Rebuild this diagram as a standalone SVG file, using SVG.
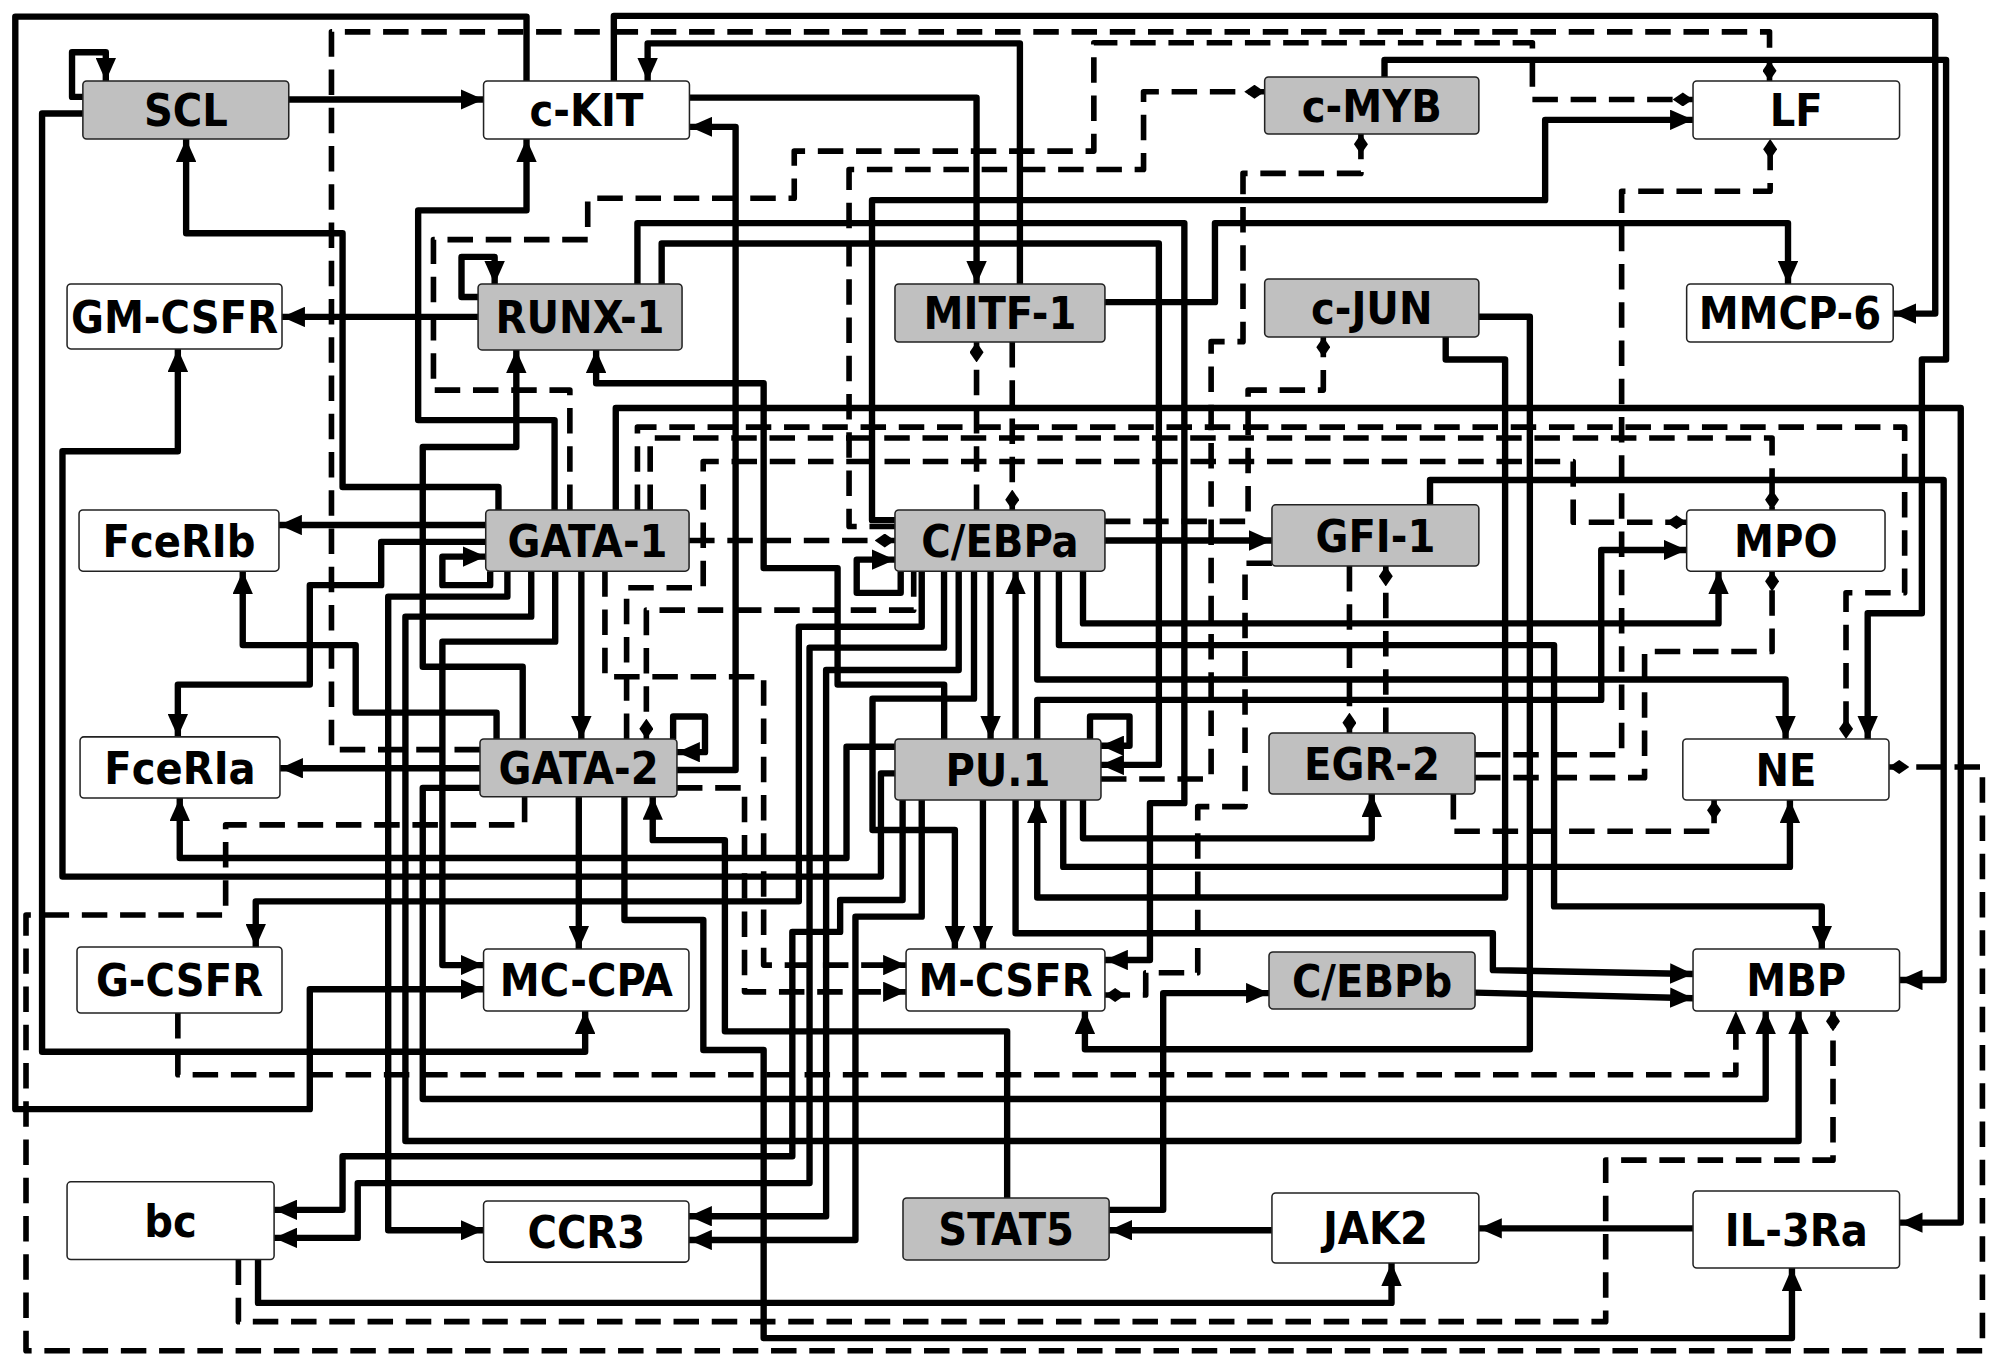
<svg xmlns="http://www.w3.org/2000/svg" width="1999" height="1366" viewBox="0 0 1999 1366">
<defs>
<style>
.n rect{stroke:#222;stroke-width:1.2}
.g rect{fill:#c0c0c0}
.w rect{fill:#fff}
text{font-family:'DejaVu Sans Condensed','DejaVu Sans',sans-serif;font-weight:bold;font-stretch:condensed;font-size:35px;text-anchor:middle;fill:#000}
#edges path{fill:none;stroke:#000;stroke-linejoin:round}
.a{stroke-width:5;marker-end:url(#ar)}
.da{stroke-width:4.4;stroke-dasharray:20 10;marker-end:url(#ar)}
.dd{stroke-width:4.4;stroke-dasharray:20 10;marker-end:url(#dm)}
</style>
<marker id="ar" markerUnits="userSpaceOnUse" viewBox="0 0 18 16" markerWidth="18" markerHeight="16" refX="18" refY="8" orient="auto"><path d="M0,0L18,8L0,16z" fill="#000"/></marker>
<marker id="dm" markerUnits="userSpaceOnUse" viewBox="0 0 16 11" markerWidth="16" markerHeight="11" refX="16" refY="5.5" orient="auto"><path d="M0,5.5L8,0L16,5.5L8,11z" fill="#000"/></marker>
</defs>
<rect width="1999" height="1366" fill="#fff"/>
<g transform="scale(1.27487)">
<g id="edges">
<path class="a" d="M413,63.5V13H12V870H243V776H379.3"/>
<path class="a" d="M65,76H56.5V41H83V63.5"/>
<path class="a" d="M226.5,78H379.3"/>
<path class="a" d="M65,89H33V825H459V793"/>
<path class="a" d="M481.5,63.5V12.5H1518V246H1485"/>
<path class="a" d="M800,222.8V34H508V63.5"/>
<path class="a" d="M540.8,76.6H766V222.8"/>
<path class="a" d="M531,604H577V99.5H540.8"/>
<path class="a" d="M528,579.7V562H553V590H531"/>
<path class="a" d="M1086,60.4V47H1526.5V282H1507.5V481H1465V579.7"/>
<path class="a" d="M1160,248.5H1200V823H851V793"/>
<path class="a" d="M1134,264.3V282H1180.6V704H813.6V627.5"/>
<path class="a" d="M866.7,237H953V175H1402.5V222.8"/>
<path class="a" d="M702,408H684V157H1212V94H1328"/>
<path class="a" d="M500,222.8V175H929V630H902V753H866.7"/>
<path class="a" d="M519,222.8V191H909V600H863.6"/>
<path class="a" d="M855,579.7V562H886V585H863.6"/>
<path class="a" d="M375,248.6H221.2"/>
<path class="a" d="M375,233H362V201.5H388V222.8"/>
<path class="a" d="M391,400V382H268.7V183H146V109"/>
<path class="a" d="M435,400V329.5H328V165H413V109"/>
<path class="a" d="M410,579.7V523H331.6V350.6H405V274.5"/>
<path class="a" d="M740.6,579.7V537H657V445.6H599V300.6H467.6V274.5"/>
<path class="a" d="M381,411.8H218.8"/>
<path class="a" d="M381,425H299V459H243V537H139.5V578"/>
<path class="a" d="M384.5,448V459H347V436.6H381"/>
<path class="a" d="M389.5,579.7V559H279V506H190.4V448"/>
<path class="a" d="M376.5,602.6H219.6"/>
<path class="a" d="M456,448V579.7"/>
<path class="a" d="M454,625V744.4"/>
<path class="a" d="M376.5,618H331.6V862H1385V793"/>
<path class="a" d="M483,400V320H1538V959H1490"/>
<path class="a" d="M1121.7,396V376.5H1524.6V768.7H1490"/>
<path class="a" d="M866.7,424H997.7"/>
<path class="a" d="M834,627.5V680H1404V627.5"/>
<path class="a" d="M849.5,627.5V657.6H1076V622.8"/>
<path class="a" d="M830.6,448V506H1219V711H1429V744.4"/>
<path class="a" d="M849.5,448V489H1348V448"/>
<path class="a" d="M813.6,448V533H1400.6V579.7"/>
<path class="a" d="M813.6,579.7V549H1256V431.4H1323"/>
<path class="a" d="M796.6,627.5V732H1171V761L1328,764"/>
<path class="a" d="M1157,778.6L1328,783"/>
<path class="a" d="M870,949H912.4V779H995.4"/>
<path class="a" d="M997.7,965H870"/>
<path class="a" d="M1328,963.5H1160"/>
<path class="a" d="M790,939.7V809H568.6V659H512V625"/>
<path class="a" d="M489.8,625V721.6H551.7V823.6H599V1049.6H1405.6V994.6"/>
<path class="a" d="M702,585.7H664V673H141V626"/>
<path class="a" d="M702,606.6H691V687.6H49V354H139.5V273.7"/>
<path class="a" d="M416.7,448V483.7H318V895H1410.8V793"/>
<path class="a" d="M398,448V468H304.5V965H379.3"/>
<path class="a" d="M435.5,448V503.3H347V757H379.3"/>
<path class="a" d="M706.5,448V465H672V439H702"/>
<path class="a" d="M764,448V548H684.4V651H749V744.4"/>
<path class="a" d="M777,448V579.7"/>
<path class="a" d="M796.6,579.7V448"/>
<path class="a" d="M723,448V491.6H626.6V707H200.6V742.8"/>
<path class="a" d="M740.5,448V508H635V928H280.6V971H215"/>
<path class="a" d="M752,448V525.5H648V954H540.4"/>
<path class="a" d="M723,627.5V719H671V972.6H540.4"/>
<path class="a" d="M708,627.5V706H659V731H621.5V907H268.7V949H215"/>
<path class="a" d="M771,627.5V744.4"/>
<path class="a" d="M202.4,988V1022H1091.5V990.7"/>
<path class="dd" d="M376.5,588H260V25H1388V63.5"/>
<path class="dd" d="M447,400V306H340V188H461V155.5H623V118.5H858V33.5H1202V78H1328"/>
<path class="dd" d="M702,413H666V133H897V72H992"/>
<path class="dd" d="M863.6,611H950V268H975V136H1067.5V105.1"/>
<path class="dd" d="M866.7,409H979V306H1038V264.3"/>
<path class="dd" d="M766,400V268.3"/>
<path class="dd" d="M794,268.3V400"/>
<path class="dd" d="M540.5,424H702"/>
<path class="dd" d="M510,400V343.6H1390V400"/>
<path class="dd" d="M500,400V335H1494V465H1448V579.7"/>
<path class="dd" d="M491.5,579.7V461H551.6V362H1234V409.6H1323"/>
<path class="dd" d="M716.7,448V478.6H507V579.7"/>
<path class="dd" d="M997.7,441.8H976.6V632.7H939.5V763H898.7V780.5H866.7"/>
<path class="dd" d="M1058.5,444V575"/>
<path class="dd" d="M1087,575V444"/>
<path class="dd" d="M1157,592H1272V150H1388.5V109"/>
<path class="dd" d="M1157,610H1290V511H1390V448"/>
<path class="dd" d="M1140,622.8V652H1344.5V627.5"/>
<path class="dd" d="M411.5,625V647H177V717.7H20.4V1059.5H1555V601.6H1481.7"/>
<path class="dd" d="M187,988V1036.7H1259.5V910H1437.8V793"/>
<path class="da" d="M474.5,448V530.8H599V757H710.7"/>
<path class="da" d="M531,618H584V778H710.7"/>
<path class="da" d="M139.5,794.6V843H1361.6V793"/>
</g>
<g id="nodes">
<g id="n-SCL" class="n g"><rect x="65" y="63.5" width="161.5" height="45.5" rx="3"/><text x="145.8" y="99">SCL</text></g>
<g id="n-cKIT" class="n w"><rect x="379.3" y="63.5" width="161.5" height="45.5" rx="3"/><text x="460" y="99">c-KIT</text></g>
<g id="n-cMYB" class="n g"><rect x="992" y="60.4" width="168" height="44.7" rx="3"/><text x="1076" y="95.5">c-MYB</text></g>
<g id="n-LF" class="n w"><rect x="1328" y="63.5" width="162" height="45.5" rx="3"/><text x="1409" y="99">LF</text></g>
<g id="n-GMCSFR" class="n w"><rect x="52.6" y="222.8" width="168.6" height="50.9" rx="3"/><text x="136.9" y="261">GM-CSFR</text></g>
<g id="n-RUNX1" class="n g"><rect x="375" y="222.8" width="160" height="51.7" rx="3"/><text x="455" y="261.4">RUNX-1</text></g>
<g id="n-MITF1" class="n g"><rect x="702" y="222.8" width="164.7" height="45.5" rx="3"/><text x="784.4" y="258.3">MITF-1</text></g>
<g id="n-cJUN" class="n g"><rect x="992" y="218.8" width="168" height="45.5" rx="3"/><text x="1076" y="254.3">c-JUN</text></g>
<g id="n-MMCP6" class="n w"><rect x="1323" y="222.8" width="162" height="45.5" rx="3"/><text x="1404" y="258.3">MMCP-6</text></g>
<g id="n-FceRIb" class="n w"><rect x="62" y="400" width="156.8" height="48" rx="3"/><text x="140.4" y="436.7">FceRIb</text></g>
<g id="n-GATA1" class="n g"><rect x="381" y="400" width="159.5" height="48" rx="3"/><text x="460.8" y="436.7">GATA-1</text></g>
<g id="n-CEBPa" class="n g"><rect x="702" y="400" width="164.7" height="48" rx="3"/><text x="784.4" y="436.7">C/EBPa</text></g>
<g id="n-GFI1" class="n g"><rect x="997.7" y="396" width="162.3" height="48" rx="3"/><text x="1078.9" y="432.7">GFI-1</text></g>
<g id="n-MPO" class="n w"><rect x="1323" y="400" width="155.6" height="48" rx="3"/><text x="1400.8" y="436.7">MPO</text></g>
<g id="n-FceRIa" class="n w"><rect x="62.8" y="578" width="156.8" height="48" rx="3"/><text x="141.2" y="614.7">FceRIa</text></g>
<g id="n-GATA2" class="n g"><rect x="376.5" y="579.7" width="154.5" height="45.3" rx="3"/><text x="453.8" y="615.1">GATA-2</text></g>
<g id="n-PU1" class="n g"><rect x="702" y="579.7" width="161.6" height="47.8" rx="3"/><text x="782.8" y="616.3">PU.1</text></g>
<g id="n-EGR2" class="n g"><rect x="995.4" y="575" width="161.6" height="47.8" rx="3"/><text x="1076.2" y="611.6">EGR-2</text></g>
<g id="n-NE" class="n w"><rect x="1320" y="579.7" width="161.7" height="47.8" rx="3"/><text x="1400.9" y="616.3">NE</text></g>
<g id="n-GCSFR" class="n w"><rect x="60.4" y="742.8" width="160.8" height="51.8" rx="3"/><text x="140.8" y="781.4">G-CSFR</text></g>
<g id="n-MCCPA" class="n w"><rect x="379.3" y="744.4" width="161.1" height="48.6" rx="3"/><text x="459.9" y="781.4">MC-CPA</text></g>
<g id="n-MCSFR" class="n w"><rect x="710.7" y="744.4" width="156" height="48.6" rx="3"/><text x="788.7" y="781.4">M-CSFR</text></g>
<g id="n-CEBPb" class="n g"><rect x="995.4" y="746.7" width="161.6" height="44.7" rx="3"/><text x="1076.2" y="781.7">C/EBPb</text></g>
<g id="n-MBP" class="n w"><rect x="1328" y="744.4" width="162" height="48.6" rx="3"/><text x="1409" y="781.4">MBP</text></g>
<g id="n-bc" class="n w"><rect x="52.6" y="927" width="162.4" height="61" rx="3"/><text x="133.8" y="970.2">bc</text></g>
<g id="n-CCR3" class="n w"><rect x="379.3" y="942" width="161.1" height="48" rx="3"/><text x="459.9" y="978.7">CCR3</text></g>
<g id="n-STAT5" class="n g"><rect x="708.3" y="939.7" width="161.7" height="48.6" rx="3"/><text x="789.2" y="976.7">STAT5</text></g>
<g id="n-JAK2" class="n w"><rect x="997.7" y="935.8" width="162.3" height="54.9" rx="3"/><text x="1078.9" y="976">JAK2</text></g>
<g id="n-IL3Ra" class="n w"><rect x="1328" y="934.2" width="162" height="60.4" rx="3"/><text x="1409" y="977.1">IL-3Ra</text></g>
</g>
</g>
</svg>
